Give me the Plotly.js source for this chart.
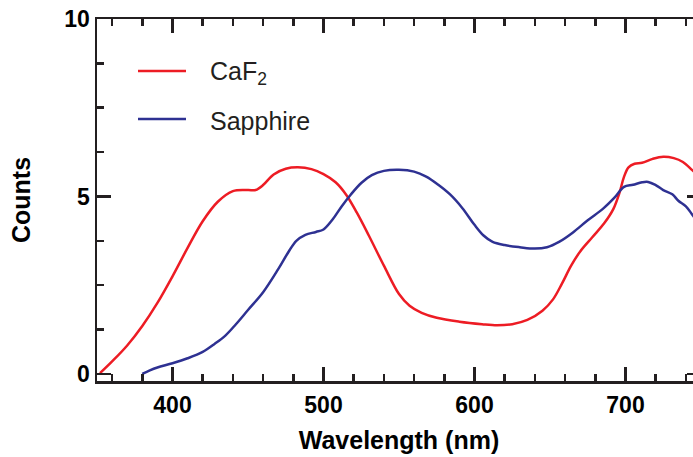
<!DOCTYPE html>
<html>
<head>
<meta charset="utf-8">
<script src="https://cdn.plot.ly/plotly-3.0.1.min.js"></script>
<style>
html,body{margin:0;padding:0;overflow:hidden;background:#fff;}
#chart{width:720px;height:457px;}
</style>
</head>
<body>
<div id="chart"></div>
<script>
// Wavelength (nm) and counts
const caf2Wavelength = [352,360,370,380,390,400,410,420,430,440,450,455,460,467,475,483,492,500,508,515,522,530,540,550,557,565,575,590,605,615,625,635,645,652,658,664,670,678,686,692,696,699,702,706,711,718,725,732,738,744,750];
const caf2Counts = [0.02,0.35,0.8,1.35,2.0,2.75,3.55,4.3,4.85,5.15,5.18,5.18,5.32,5.62,5.78,5.82,5.77,5.63,5.4,5.05,4.55,3.9,3.05,2.25,1.92,1.72,1.58,1.47,1.40,1.37,1.40,1.52,1.78,2.1,2.55,3.05,3.45,3.85,4.25,4.65,5.1,5.55,5.82,5.92,5.95,6.06,6.12,6.08,5.97,5.75,5.5];

const sapphireWavelength = [380,385,390,400,410,420,428,435,442,450,460,470,477,482,488,495,500,506,512,518,525,532,540,550,560,568,576,584,592,600,606,612,620,630,640,648,656,665,675,685,693,699,705,711,715,720,725,731,735,740,744,750];
const sapphireCounts = [0,0.1,0.18,0.3,0.44,0.62,0.85,1.08,1.4,1.8,2.3,2.95,3.45,3.75,3.92,4.0,4.07,4.35,4.72,5.05,5.38,5.6,5.72,5.75,5.7,5.56,5.33,5.05,4.67,4.2,3.9,3.72,3.63,3.57,3.53,3.57,3.72,3.98,4.33,4.65,4.98,5.27,5.33,5.4,5.41,5.32,5.18,5.06,4.88,4.72,4.5,4.15];

const seriesNames = ['CaF<sub>2</sub>', 'Sapphire'];
const seriesColors = ['#ED1C24', '#2E3192'];
const xTickValues = [400, 500, 600, 700];
const yTickValues = [0, 5, 10];

const axisColor = '#231F20';
const fontFam = '"Liberation Sans", Arial, Helvetica, sans-serif';

const traces = [
  {x: caf2Wavelength, y: caf2Counts, name: seriesNames[0], mode: 'lines',
   line: {color: seriesColors[0], width: 2.5, shape: 'spline', smoothing: 1}},
  {x: sapphireWavelength, y: sapphireCounts, name: seriesNames[1], mode: 'lines',
   line: {color: seriesColors[1], width: 2.5, shape: 'spline', smoothing: 1}}
];

// plot-area helpers for the hand-placed legend
const L = 97, T = 19, W = 604, H = 362;
const px = v => (v - L) / W;
const py = v => 1 - (v - T) / H;

const legendRows = [71, 119];
const shapes = legendRows.map((r, i) => ({
  type: 'line', xref: 'paper', yref: 'paper',
  x0: px(138), x1: px(186), y0: py(r), y1: py(r),
  line: {color: seriesColors[i], width: 2.5}
}));
const annotations = legendRows.map((r, i) => ({
  xref: 'paper', yref: 'paper', x: px(208), y: py(r + 2),
  xanchor: 'left', yanchor: 'middle', showarrow: false,
  text: seriesNames[i], font: {family: fontFam, size: 25, color: axisColor}
}));

const layout = {
  width: 720, height: 457,
  margin: {l: L, r: 720 - L - W, t: T, b: 457 - T - H, pad: 0},
  paper_bgcolor: '#fff', plot_bgcolor: '#fff',
  showlegend: false,
  font: {family: fontFam, color: axisColor},
  xaxis: {
    range: [350, 750], tickvals: xTickValues, ticktext: xTickValues.map(String),
    showgrid: false, zeroline: false,
    showline: true, linecolor: axisColor, linewidth: 2.5, mirror: 'ticks',
    ticks: 'inside', ticklen: 14, tickwidth: 2.5, tickcolor: axisColor,
    minor: {dtick: 20, tick0: 0, ticks: 'inside', ticklen: 7, tickwidth: 2.5, tickcolor: axisColor, showgrid: false},
    tickfont: {family: fontFam, size: 23, color: '#000', weight: 'bold'},
    ticklabelstandoff: 2,
    title: {text: '<b>Wavelength (nm)</b>', font: {family: fontFam, size: 25, color: '#000'}, standoff: 15}
  },
  yaxis: {
    range: [-0.2, 10], tickvals: yTickValues, ticktext: yTickValues.map(String),
    showgrid: false, zeroline: false,
    showline: true, linecolor: axisColor, linewidth: 2.5, mirror: 'ticks',
    ticks: 'inside', ticklen: 14, tickwidth: 2.5, tickcolor: axisColor,
    minor: {dtick: 1.25, tick0: 0, ticks: 'inside', ticklen: 7, tickwidth: 2.5, tickcolor: axisColor, showgrid: false},
    tickfont: {family: fontFam, size: 23, color: '#000', weight: 'bold'},
    title: {text: '<b>Counts</b>', font: {family: fontFam, size: 25, color: '#000'}, standoff: 27}
  },
  shapes: shapes,
  annotations: annotations
};

Plotly.newPlot('chart', traces, layout, {staticPlot: true, displayModeBar: false});
</script>
</body>
</html>
